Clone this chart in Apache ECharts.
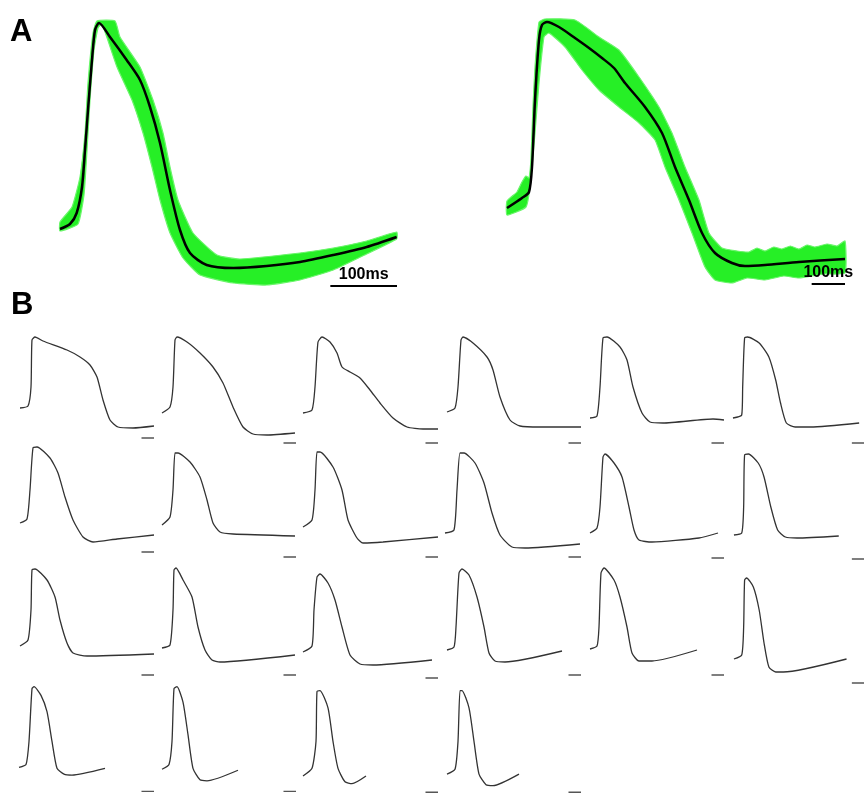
<!DOCTYPE html>
<html>
<head>
<meta charset="utf-8">
<script src="https://cdn.jsdelivr.net/npm/echarts@6/dist/echarts.min.js"></script>
<style>
  html, body { margin: 0; background: #fff; }
  #chart { width: 864px; height: 800px; }
</style>
</head>
<body>
<div id="chart"></div>
<script>
// ---- panel A (time in ms, voltage in mV) ----
// left recording: mean trace (black) and the spread of the single beats (green)
const meanLeft = [[0,-73.5],[15,-71],[25,-65.5],[33,-52.5],[37.5,-34],[42,-14],[48,11],[52.5,26],[58.5,29.5],[75,22.5],[100,11],[120,1],[135,-12.5],[150,-30.5],[165,-54],[180,-74],[195,-85.5],[220,-91.5],[260,-93],[310,-92],[360,-90],[410,-86.5],[460,-82.5],[505,-77.5]]
const spreadLeftUpper = [[0,-70],[18,-62.5],[30,-47.5],[37.5,-25.5],[42,-0.5],[49.5,24.5],[55.5,30.5],[82.5,30.5],[90,22.5],[120,7.5],[139.5,-9],[154.5,-25.5],[165,-42.5],[177,-59],[199.5,-75.5],[235.5,-86.5],[270,-88.5],[360,-85.5],[410,-83],[460,-79.5],[505,-75]]
const spreadLeftLower = [[0,-74.5],[27,-71],[36,-56.5],[40.5,-34],[45,-9],[51,16],[57,27],[63,29],[85.5,7.5],[108,-9],[124.5,-25.5],[138,-42.5],[150,-59],[165,-75.5],[184.5,-88],[210,-96.5],[260,-100.5],[310,-101.5],[360,-99],[410,-94],[460,-86],[505,-78.5]]

// right recording
const meanRight = [[0,-63],[45,-58],[66,-55],[75,-42.5],[84,-9],[96,21],[105,28.5],[120,30],[156,27.5],[204,22],[246,17],[285,12],[321,7],[354,-0.5],[414,-12.5],[465,-25.5],[504,-42.5],[546,-59],[585,-75.5],[624,-85.5],[675,-90.5],[714,-92],[774,-91.5],[876,-90],[1014,-88.5]]
const spreadRightUpper = [[0,-59.5],[30,-55],[45,-50],[57,-47],[66,-48],[72,-38],[78,-12],[84,7.5],[96,30],[114,31.5],[204,31],[276,22.5],[336,16],[396,2.5],[456,-12.5],[495,-25.5],[534,-42.5],[576,-59],[606,-75.5],[645,-83],[690,-84.5],[726,-85],[750,-83],[774,-84.5],[800,-82.5],[825,-83.5],[850,-82],[876,-83.5],[900,-81.5],[924,-82.5],[960,-81],[990,-82],[1014,-79.5]]
const spreadRightLower = [[0,-66.5],[57,-62.5],[69,-52.5],[84,-25.5],[96,-0.5],[111,22.5],[126,24.5],[174,17.5],[225,6],[276,-4],[336,-12.5],[396,-20.5],[444,-29],[474,-42.5],[516,-59],[555,-75.5],[594,-92.5],[624,-99],[675,-100.5],[720,-98],[774,-99],[830,-97],[876,-98],[950,-96],[1014,-95.5]]

const scaleBarMs = 100
const scaleLabel = '100ms'
const scaleBarA = [[405.5, -102], [914, -101]]   // start ms, level mV (left, right)

// ---- panel B: 22 single action potentials ----
const tracesB = [
  [[16,-41],[80,-39],[104,-20],[112,27],[136,30],[200,26],[392,17],[496,10],[576,2],[632,-10],[680,-33],[736,-53],[800,-60],[920,-61],[1088,-59]],
  [[16,-46],[80,-40],[104,-20],[120,27],[136,30],[216,25],[320,14],[424,0],[504,-16],[584,-40],[664,-60],[744,-67],[856,-68],[1080,-66]],
  [[8,-46],[80,-43],[104,-20],[128,25],[160,30],[224,25],[280,14],[320,0],[384,-5],[464,-11],[544,-23],[624,-36],[728,-51],[840,-60],[968,-62],[1088,-62]],
  [[16,-45],[80,-41],[104,-20],[128,27],[144,30],[224,24],[336,10],[384,-3],[440,-30],[520,-53],[600,-59],[760,-60],[1088,-60]],
  [[16,-51],[72,-49],[96,-20],[120,29],[152,30],[256,20],[312,7],[360,-20],[432,-46],[496,-55],[600,-56],[1000,-52],[1088,-53]],
  [[8,-51],[80,-48],[88,-20],[104,29],[128,30],[224,24],[304,10],[360,-13],[400,-36],[448,-56],[520,-60],[648,-60],[1048,-56]],
  [[16,-46],[72,-42],[96,-13],[120,29],[152,30],[256,19],[320,4],[376,-20],[440,-43],[520,-60],[600,-65],[792,-62],[1088,-58]],
  [[16,-48],[80,-40],[104,-13],[120,24],[144,24],[240,15],[320,0],[376,-23],[424,-46],[480,-55],[584,-57],[1080,-59]],
  [[8,-50],[80,-43],[104,-13],[120,25],[144,25],[248,10],[320,-13],[368,-43],[440,-61],[488,-66],[648,-65],[1088,-60]],
  [[0,-56],[72,-53],[96,-13],[120,24],[152,24],[240,14],[312,-6],[376,-36],[440,-58],[536,-70],[640,-71],[1080,-67]],
  [[16,-56],[72,-51],[96,-30],[120,20],[136,23],[208,14],[272,0],[328,-30],[368,-53],[408,-63],[512,-65],[888,-61],[1040,-56]],
  [[16,-58],[80,-56],[96,-30],[104,22],[136,23],[216,14],[264,0],[320,-30],[376,-53],[440,-60],[536,-61],[880,-59]],
  [[16,-48],[80,-42],[104,-12],[112,28],[136,29],[232,18],[296,1],[336,-22],[392,-45],[440,-55],[552,-58],[1088,-56]],
  [[16,-50],[80,-47],[104,-12],[112,28],[128,30],[184,18],[256,1],[304,-29],[360,-52],[416,-62],[480,-64],[1080,-57]],
  [[8,-54],[80,-48],[96,-12],[120,21],[144,24],[208,15],[264,-2],[320,-29],[384,-57],[464,-66],[568,-67],[1040,-62]],
  [[16,-52],[72,-49],[88,-29],[112,25],[136,29],[192,23],[256,1],[312,-29],[352,-55],[400,-63],[480,-64],[936,-53]],
  [[16,-51],[72,-48],[88,-29],[104,25],[128,30],[208,18],[256,1],[312,-29],[352,-55],[408,-63],[512,-63],[872,-52]],
  [[16,-61],[80,-57],[96,-29],[104,18],[120,20],[176,11],[224,-12],[264,-45],[304,-69],[360,-74],[424,-74],[944,-61]],
  [[8,-54],[64,-51],[88,-27],[112,28],[128,30],[184,21],[232,4],[272,-27],[312,-55],[368,-61],[432,-62],[696,-55]],
  [[16,-56],[72,-51],[96,-27],[112,28],[136,30],[184,14],[224,-20],[264,-55],[320,-67],[376,-68],[624,-57]],
  [[8,-63],[80,-55],[112,-27],[120,25],[144,26],[208,8],[248,-27],[288,-55],[344,-69],[400,-71],[512,-63]],
  [[16,-61],[80,-56],[104,-27],[120,26],[136,26],[192,8],[232,-27],[272,-61],[328,-72],[384,-73],[592,-61]]
]
// level (mV) of the little 100 ms bar under each trace
const barLevelB = [-71,-76,-76,-76,-76,-76, -75,-80,-80,-80,-81,-82, -77,-77,-80,-77,-77,-85, -79,-79,-80,-80]
const cellEndB = 1088   // ms shown per cell

// layout
const colLeftB = [18, 160, 302, 445, 588, 732]
const rowTopB = [330, 440, 561, 680]

const grids = [], xAxes = [], yAxes = [], series = []

function addGrid(box, xMax, yMin, yMax) {
  const i = grids.length
  grids.push(box)
  xAxes.push({ type: 'value', gridIndex: i, min: 0, max: xMax, show: false })
  yAxes.push({ type: 'value', gridIndex: i, min: yMin, max: yMax, show: false })
  return i
}

function spreadSeries(i, upper, lower) {
  return {
    type: 'custom', xAxisIndex: i, yAxisIndex: i, silent: true, z: 1,
    data: [[0, 0]],
    renderItem: function (params, api) {
      const pts = upper.concat(lower.slice().reverse()).map(p => api.coord(p))
      return {
        type: 'polygon',
        shape: { points: pts, smooth: 0.15 },
        style: { fill: '#26ef26', stroke: '#6af56a', lineWidth: 1.2 }
      }
    }
  }
}

function meanSeries(i, data) {
  return {
    type: 'line', xAxisIndex: i, yAxisIndex: i, data: data, smooth: 0.25,
    showSymbol: false, symbol: 'none', z: 3,
    lineStyle: { color: '#000', width: 2.5 }
  }
}

function scaleSeries(i, start, color, width, withLabel) {
  const out = [{
    type: 'line', xAxisIndex: i, yAxisIndex: i, symbol: 'none', z: 3,
    data: [[start[0], start[1]], [start[0] + scaleBarMs, start[1]]],
    lineStyle: { color: color, width: width }
  }]
  if (withLabel) {
    out.push({
      type: 'scatter', xAxisIndex: i, yAxisIndex: i, symbolSize: 0, z: 4,
      itemStyle: { opacity: 1 },
      data: [[start[0] + scaleBarMs / 2, start[1]]],
      label: {
        show: true, position: 'top', distance: 3, formatter: scaleLabel,
        fontFamily: 'Liberation Sans', fontWeight: 'bold', fontSize: 16, color: '#000'
      }
    })
  }
  return out
}

// panel A grids
const gA1 = addGrid({ left: 60, top: 10, width: 337, height: 290 }, 505.5, -109, 36)
const gA2 = addGrid({ left: 507, top: 10, width: 338, height: 290 }, 1014, -109, 36)
series.push(spreadSeries(gA1, spreadLeftUpper, spreadLeftLower))
series.push(meanSeries(gA1, meanLeft))
series.push(...scaleSeries(gA1, scaleBarA[0], '#000', 2, true))
series.push(spreadSeries(gA2, spreadRightUpper, spreadRightLower))
series.push(meanSeries(gA2, meanRight))
series.push(...scaleSeries(gA2, scaleBarA[1], '#000', 2, true))

// panel B grids
tracesB.forEach(function (tr, k) {
  const r = Math.floor(k / 6), c = k % 6
  const g = addGrid({ left: colLeftB[c], top: rowTopB[r], width: 136, height: 125 }, cellEndB, -88, 37)
  series.push({
    type: 'line', xAxisIndex: g, yAxisIndex: g, data: tr, smooth: 0.2,
    symbol: 'none', lineStyle: { color: '#333', width: 1.3 }
  })
  series.push(...scaleSeries(g, [cellEndB - scaleBarMs, barLevelB[k]], '#555', 1.4, false))
})

const chart = echarts.init(document.getElementById('chart'))
chart.setOption({
  animation: false,
  backgroundColor: '#fff',
  grid: grids,
  xAxis: xAxes,
  yAxis: yAxes,
  graphic: [
    { type: 'text', left: 10, top: 17, style: { text: 'A', font: 'bold 31px "Liberation Sans"', fill: '#000' } },
    { type: 'text', left: 11, top: 290, style: { text: 'B', font: 'bold 31px "Liberation Sans"', fill: '#000' } }
  ],
  series: series
})
</script>
</body>
</html>
